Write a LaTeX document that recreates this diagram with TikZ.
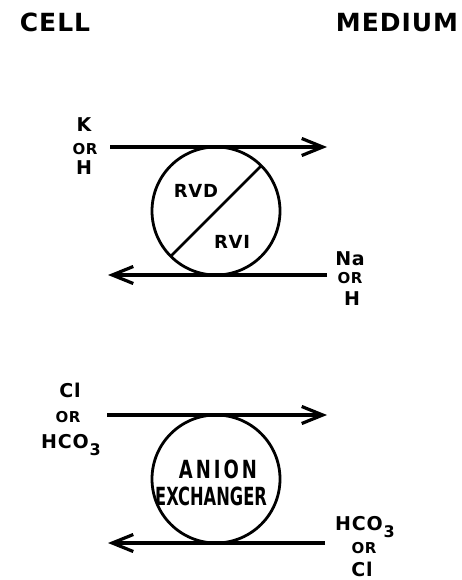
\documentclass[tikz,border=0pt]{standalone}
\usepackage{fontspec}
\newfontfamily\lettering[LetterSpace=4]{DejaVu Sans Bold}
\newfontfamily\condensed{DejaVu Sans Bold}
\usetikzlibrary{arrows.meta}
\newcommand{\sub}[1]{\kern1pt\raisebox{-7pt}{\fontsize{16}{16}\selectfont #1}}
\begin{document}
\begin{tikzpicture}[x=1pt, y=-1pt,
  flux/.style={line width=3.2pt, -{Straight Barb[length=21pt, width=17pt]}},
  carrier/.style={circle, draw, line width=2.8pt, minimum size=128pt, inner sep=0pt, outer sep=0pt},
  side/.style={anchor=base, inner sep=0pt, font=\lettering\fontsize{25}{25}\selectfont},
  ion/.style={anchor=base, inner sep=0pt, font=\lettering\fontsize{19}{19}\selectfont},
  conj/.style={anchor=base, inner sep=0pt, font=\lettering\fontsize{15}{15}\selectfont}]
  \useasboundingbox (0,0) rectangle (462,580);

  % compartments
  \node[side] (cell) at (55,32) {CELL};
  \node[side] (medium) at (397,32) {MEDIUM};

  % volume regulating carrier
  \node[carrier] (rv) at (216,211) {};
  \draw[line width=2.8pt] (rv.225) -- (rv.45);
  \node[ion, font=\lettering\fontsize{18}{18}\selectfont] (rvd) at (196,197) {RVD};
  \node[ion, font=\lettering\fontsize{18}{18}\selectfont] (rvi) at (232,248) {RVI};

  \node[ion] (k) at (84,132) {K};
  \node[conj] (kor) at (85,155) {OR};
  \node[ion] (kh) at (84,175) {H};
  \coordinate (kout1) at (110,147);
  \coordinate (kout2) at (327,147);
  \draw[flux] (kout1) -- (kout2);

  \node[ion] (na) at (350,265) {Na};
  \node[conj] (naor) at (350,283) {OR};
  \node[ion] (nah) at (352,305) {H};
  \coordinate (nain1) at (327,275);
  \coordinate (nain2) at (108,275);
  \draw[flux] (nain1) -- (nain2);

  % anion exchanger
  \node[carrier] (ae) at (216,479) {};
  \node[anchor=base, inner sep=0pt, font=\condensed\fontsize{25}{25}\selectfont] (anion) at (218,478)
    {\scalebox{0.72}[1]{A\,N\,I\,O\,N}};
  \node[anchor=base, inner sep=0pt, font=\condensed\fontsize{25}{25}\selectfont] (exch) at (211,505)
    {\scalebox{0.65}[1]{EXCHANGER}};

  \node[ion] (cl) at (70,397) {Cl};
  \node[conj] (clor) at (68,422) {OR};
  \node[ion] (hco) at (71,448) {HCO\sub{3}};
  \coordinate (clout1) at (107,415);
  \coordinate (clout2) at (327,415);
  \draw[flux] (clout1) -- (clout2);

  \node[ion] (hco2) at (365,530) {HCO\sub{3}};
  \node[conj] (hcoor) at (364,553) {OR};
  \node[ion] (cl2) at (362,576) {Cl};
  \coordinate (hcoin1) at (325,543);
  \coordinate (hcoin2) at (108,543);
  \draw[flux] (hcoin1) -- (hcoin2);
\end{tikzpicture}
\end{document}
